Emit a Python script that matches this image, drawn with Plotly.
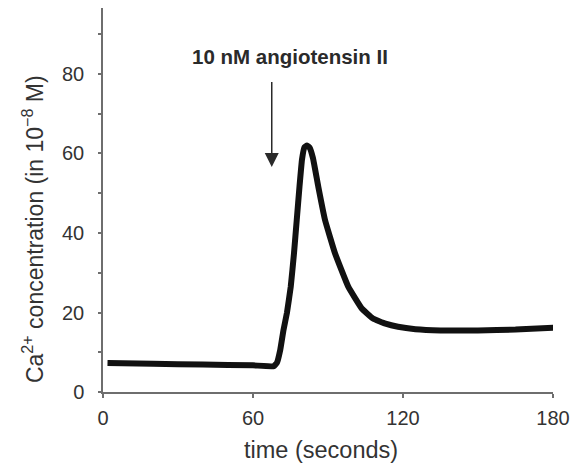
import plotly.graph_objects as go

# Ca2+ trace after angiotensin II stimulation
time_s = [1.8, 20, 40, 60, 68.3, 69.6, 70.9, 72.2, 73.6, 75.1, 76.4, 77.5, 78.6,
          79.6, 80.6, 81.6, 82.6, 84.0, 86.1, 88.8, 92.8, 98.1, 103.5, 108, 113,
          118, 125, 135, 150, 165, 181]
ca_conc = [7.3, 7.1, 6.9, 6.7, 6.5, 7.4, 10.6, 15.6, 20.0, 26.5, 34.9, 43.3, 51.7,
           58.5, 61.6, 62.0, 61.5, 58.8, 51.7, 43.3, 34.9, 26.5, 21.0, 18.5, 17.2,
           16.4, 15.8, 15.5, 15.5, 15.7, 16.2]

x_ticks = [0, 60, 120, 180]
y_ticks = [0, 20, 40, 60, 80]

stim_time = 67.5
arrow_tail = 78.0
arrow_tip = 56.6
stim_label = "10 nM angiotensin II"

FONT = "Liberation Sans, Arial, Helvetica, sans-serif"
TEXT = "#333333"
AXIS = "#6e6e6e"

fig = go.Figure()

fig.add_trace(go.Scatter(
    x=time_s, y=ca_conc, mode="lines",
    line=dict(color="#111111", width=6, shape="spline", smoothing=0.3),
    hoverinfo="skip", showlegend=False,
))

# stimulus arrow: shaft + head
fig.add_trace(go.Scatter(
    x=[stim_time, stim_time], y=[arrow_tail, arrow_tip + 2.5], mode="lines",
    line=dict(color="#2a2a2a", width=1.5), hoverinfo="skip", showlegend=False,
))
fig.add_trace(go.Scatter(
    x=[stim_time], y=[arrow_tip], mode="markers",
    marker=dict(symbol="arrow-down", size=14, color="#2a2a2a", line=dict(width=0)),
    hoverinfo="skip", showlegend=False,
))

fig.add_annotation(
    text="<b>" + stim_label + "</b>", x=stim_time + 7.35, y=84.4,
    xref="x", yref="y", xanchor="center", yanchor="middle", showarrow=False,
    font=dict(family=FONT, size=20.5, color="#2a2a2a"),
)

fig.add_annotation(
    text="time (seconds)", xref="paper", yref="paper", x=0.484, y=-0.152,
    xanchor="center", yanchor="middle",
    showarrow=False, font=dict(family=FONT, size=23.5, color=TEXT),
)
fig.add_annotation(
    text="Ca<sup>2+</sup> concentration (in 10<sup>\u22128</sup> M)",
    xref="paper", yref="paper", x=-0.155, y=0.425, textangle=-90,
    xanchor="center", yanchor="middle",
    showarrow=False, font=dict(family=FONT, size=23, color=TEXT),
)

fig.update_xaxes(
    range=[0, 180], tickvals=x_ticks, ticktext=[str(v) for v in x_ticks],
    showgrid=False, zeroline=False, showline=True, linecolor=AXIS, linewidth=1.5,
    ticks="outside", ticklen=4, tickwidth=1.5, tickcolor=AXIS, automargin=False,
    tickfont=dict(family=FONT, size=20, color=TEXT), ticklabelstandoff=3,
)
fig.update_yaxes(
    range=[0, 96.6], tickvals=y_ticks, ticktext=[str(v) for v in y_ticks],
    showgrid=False, zeroline=False, showline=True, linecolor=AXIS, linewidth=1.5,
    ticks="outside", ticklen=3, tickwidth=1.5, tickcolor=AXIS, automargin=False,
    minor=dict(dtick=10, tick0=0, ticks="outside", ticklen=3, tickwidth=1.5, tickcolor=AXIS),
    tickfont=dict(family=FONT, size=20, color=TEXT), ticklabelstandoff=10,
)

fig.update_layout(
    width=570, height=464,
    margin=dict(l=102.5, r=17, t=8, b=72),
    paper_bgcolor="white", plot_bgcolor="white",
)

fig.write_html("out.html")
